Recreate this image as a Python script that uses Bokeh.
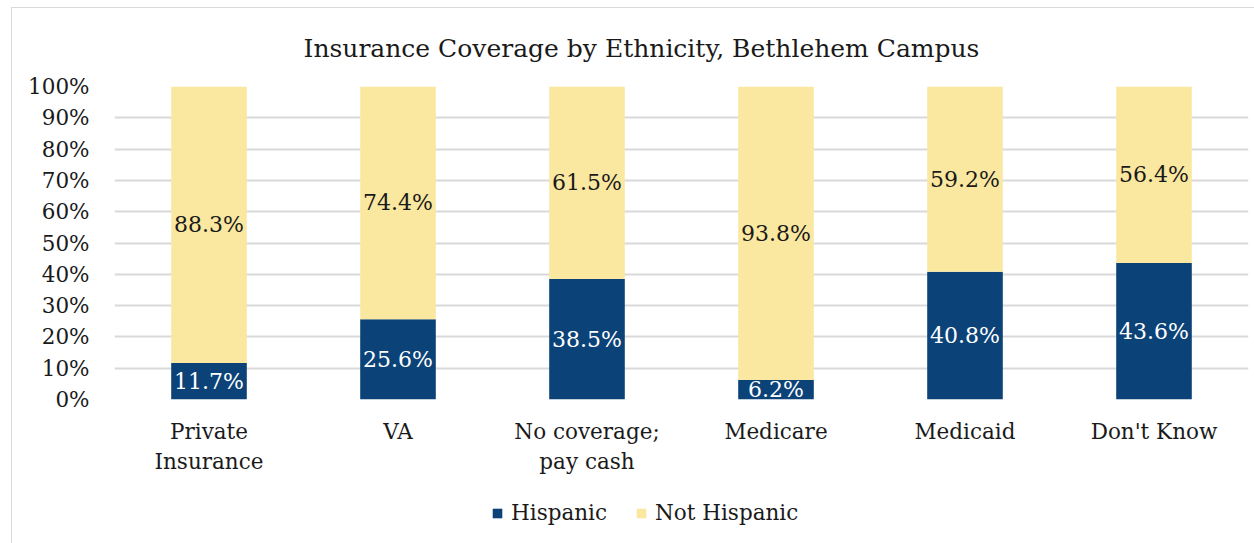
from bokeh.plotting import figure
from bokeh.layouts import column
from bokeh.models import ColumnDataSource, FactorRange, Range1d, Legend, LegendItem, NumeralTickFormatter, FixedTicker, Title
from bokeh.core.properties import value
from bokeh.embed import file_html
from bokeh.resources import INLINE

categories = ["Private\nInsurance", "VA", "No coverage;\npay cash", "Medicare", "Medicaid", "Don't Know"]
hispanic = [0.117, 0.256, 0.385, 0.062, 0.408, 0.436]
not_hispanic = [0.883, 0.744, 0.615, 0.938, 0.592, 0.564]
series = ["Hispanic", "Not Hispanic"]
colors = ["#0B4277", "#FBE8A0"]
yticks = [0, 0.1, 0.2, 0.3, 0.4, 0.5, 0.6, 0.7, 0.8, 0.9, 1.0]

FONT = "DejaVu Serif"

src = ColumnDataSource(dict(
    cat=categories,
    Hispanic=hispanic,
    NotHispanic=not_hispanic,
    h_y=[h / 2 for h in hispanic],
    n_y=[h + n / 2 for h, n in zip(hispanic, not_hispanic)],
    h_lbl=[f"{h*100:.1f}%" for h in hispanic],
    n_lbl=[f"{n*100:.1f}%" for n in not_hispanic],
))

p = figure(x_range=FactorRange(*categories), y_range=Range1d(0, 1),
           width=1243, height=473, output_backend="svg", toolbar_location=None,
           min_border_left=102, min_border_right=7, min_border_top=78, min_border_bottom=82)
p.outline_line_color = None

p.title = Title(text="Insurance Coverage by Ethnicity, Bethlehem Campus", align="left",
                offset=189, text_font=FONT, text_font_size="25px", text_font_style="normal",
                text_color="#1a1a1a", standoff=47)

r = p.vbar_stack(["Hispanic", "NotHispanic"], x="cat", width=0.4, source=src,
                 color=colors, line_color=None)

p.text(x="cat", y="h_y", text="h_lbl", source=src, text_align="center", text_baseline="middle",
       text_color="white", text_font=value(FONT), text_font_size="22px")
p.text(x="cat", y="n_y", text="n_lbl", source=src, text_align="center", text_baseline="middle",
       text_color="#1a1a1a", text_font=value(FONT), text_font_size="22px")

p.yaxis.ticker = FixedTicker(ticks=yticks)
p.yaxis.formatter = NumeralTickFormatter(format="0%")
for ax in (p.xaxis[0], p.yaxis[0]):
    ax.axis_line_color = None
    ax.major_tick_line_color = None
    ax.minor_tick_line_color = None
    ax.major_label_text_font = FONT
    ax.major_label_text_font_size = "21.5px"
    ax.major_label_text_color = "#1a1a1a"
p.yaxis.major_label_standoff = 19
p.xaxis.major_label_standoff = 13
p.xgrid.grid_line_color = None
p.ygrid.grid_line_color = "#d9d9d9"
p.ygrid.grid_line_width = 2
p.ygrid.ticker = FixedTicker(ticks=yticks)
p.x_range.range_padding = 0
p.x_range.group_padding = 0

# legend strip (its bars sit outside the visible range; only the legend shows)
p2 = figure(x_range=FactorRange(*categories), y_range=Range1d(5, 6),
            width=1243, height=63, output_backend="svg", toolbar_location=None,
            min_border=0)
p2.axis.visible = False
p2.grid.visible = False
p2.outline_line_color = None
r2 = p2.vbar_stack(["Hispanic", "NotHispanic"], x="cat", width=0.4, source=src,
                   color=colors, line_color=None)
legend = Legend(items=[LegendItem(label=s, renderers=[rr]) for s, rr in zip(series, r2)],
                orientation="horizontal", location=(377, 19),
                label_text_font=FONT, label_text_font_size="21.5px", label_text_color="#1a1a1a",
                glyph_width=12, glyph_height=12, spacing=28, label_standoff=8,
                border_line_color=None, background_fill_alpha=0, margin=0, padding=4)
p2.add_layout(legend, "center")

layout = column(p, p2, spacing=0)
layout.margin = (7, 0, 0, 11)
layout.styles = {"border-left": "1px solid #d9d9d9", "border-top": "1px solid #d9d9d9"}

open("out.html", "w").write(file_html(layout, INLINE))
